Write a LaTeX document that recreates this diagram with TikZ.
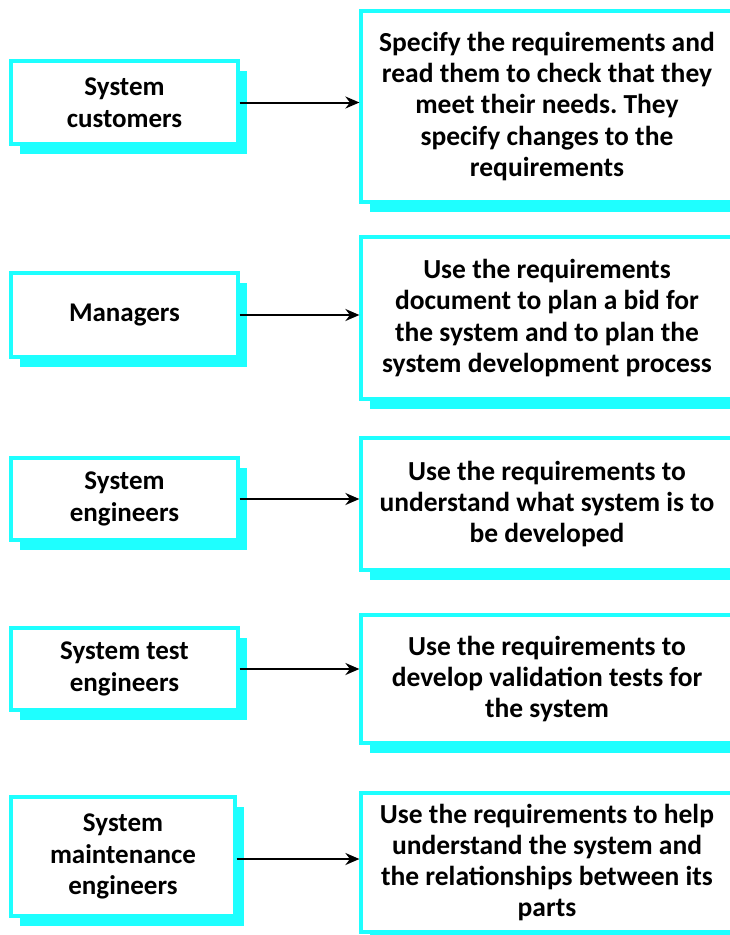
\documentclass[tikz,border=0pt]{standalone}
\usepackage{fontspec}
\setmainfont{Carlito}
\frenchspacing
\usetikzlibrary{arrows.meta,shadows}
\definecolor{boxcyan}{RGB}{30,255,255}
\tikzset{
  actor/.style={draw=boxcyan, line width=3.2pt, fill=white, rectangle,
    minimum width=227pt, align=center, inner sep=0pt,
    font=\fontsize{27}{31.5}\selectfont\bfseries,
    drop shadow={shadow xshift=9pt, shadow yshift=-10pt, fill=boxcyan, opacity=1}},
  usebox/.style={draw=boxcyan, line width=3.2pt, fill=white, rectangle,
    minimum width=372pt, align=center, inner sep=0pt,
    font=\fontsize{27.5}{31.3}\selectfont\bfseries,
    drop shadow={shadow xshift=9pt, shadow yshift=-10pt, fill=boxcyan, opacity=1}},
  link/.style={line width=2pt, -{Stealth[length=14pt,width=12pt]}}
}
\begin{document}
\begin{tikzpicture}[x=1pt,y=-1pt]
\useasboundingbox (0,0) rectangle (730,935);
\begin{scope}
\clip (0,0) rectangle (730,935);
% row 1
\node[actor, minimum height=83pt] (a1) at (124.5,102.5) {System\\customers};
\node[usebox, minimum height=191pt] (b1) at (547,106.5) {Specify the requirements and\\read them to check that they\\meet their needs. They\\specify changes to the\\requirements};
% row 2
\node[actor, minimum height=84pt] (a2) at (124.5,315) {Managers};
\node[usebox, minimum height=162pt] (b2) at (547,318) {Use the requirements\\document to plan a bid for\\the system and to plan the\\system development process};
% row 3
\node[actor, minimum height=82pt] (a3) at (124.5,499) {System\\engineers};
\node[usebox, minimum height=132pt] (b3) at (547,504) {Use the requirements to\\understand what system is to\\be developed};
% row 4
\node[actor, minimum height=82pt] (a4) at (124.5,669) {System test\\engineers};
\node[usebox, minimum height=128pt] (b4) at (547,679) {Use the requirements to\\develop validation tests for\\the system};
% row 5
\node[actor, minimum width=224pt, minimum height=119pt] (a5) at (123,856.5) {System\\maintenance\\engineers};
\node[usebox, minimum height=139pt] (b5) at (547,862.5) {Use the requirements to help\\understand the system and\\the relationships between its\\parts};
\end{scope}
\draw[link] (a1.east) -- (a1.east -| b1.west);
\draw[link] (a2.east) -- (a2.east -| b2.west);
\draw[link] (a3.east) -- (a3.east -| b3.west);
\draw[link] (a4.east) -- (a4.east -| b4.west);
\draw[link] ([yshift=-2.5pt]a5.east) -- ([yshift=-2.5pt]a5.east -| b5.west);
\end{tikzpicture}
\end{document}
